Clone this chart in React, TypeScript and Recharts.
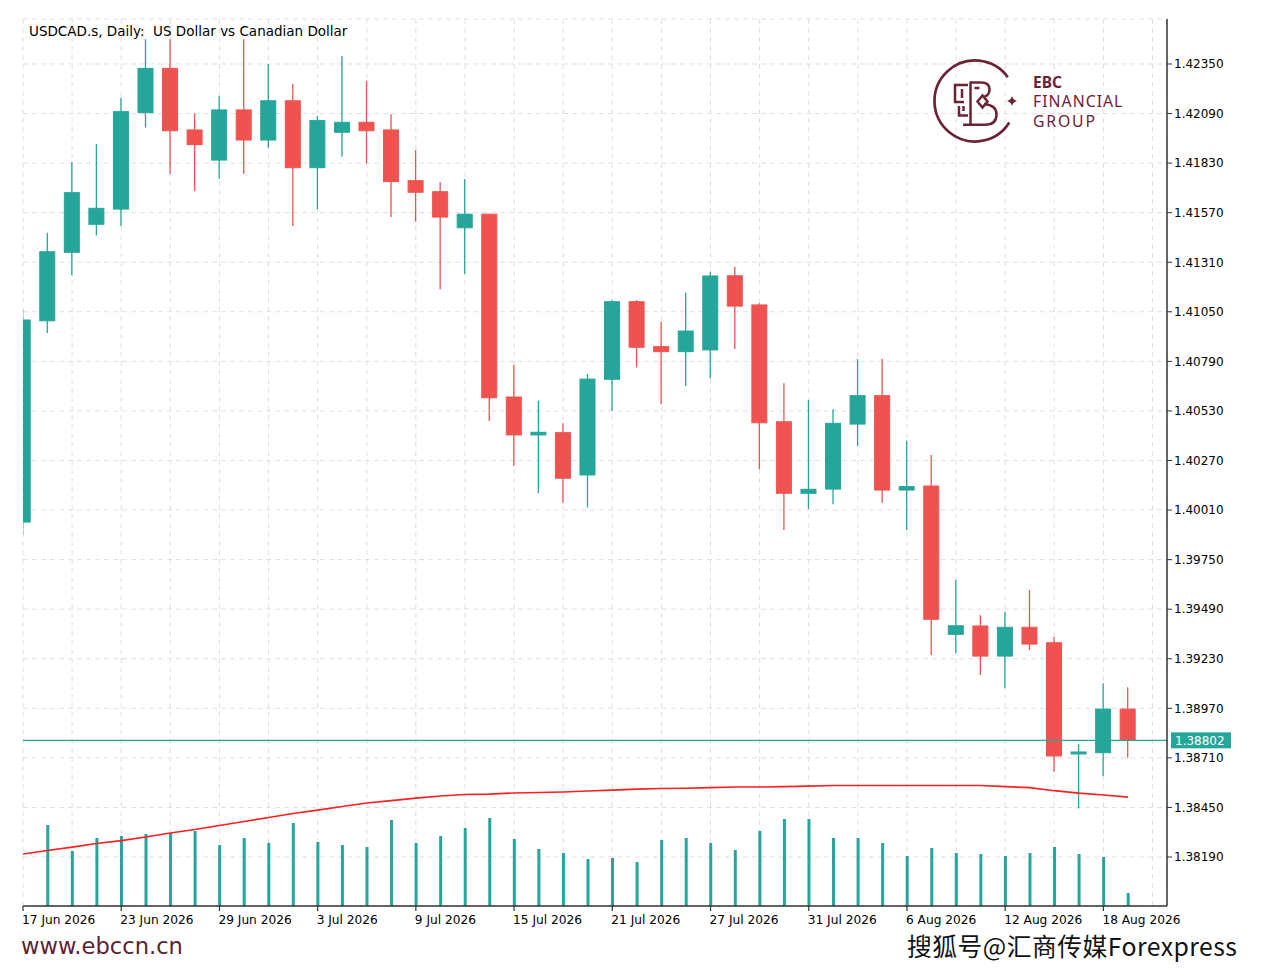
import React from 'react';
import {
  ComposedChart,
  Bar,
  Line,
  XAxis,
  YAxis,
  CartesianGrid,
  ReferenceLine,
} from 'recharts';

// ---------------- data ----------------
const DATES = [
  '17 Jun 2026', '18 Jun 2026', '19 Jun 2026', '22 Jun 2026', '23 Jun 2026', '24 Jun 2026',
  '25 Jun 2026', '26 Jun 2026', '29 Jun 2026', '30 Jun 2026', '1 Jul 2026', '2 Jul 2026',
  '3 Jul 2026', '6 Jul 2026', '7 Jul 2026', '8 Jul 2026', '9 Jul 2026', '10 Jul 2026',
  '13 Jul 2026', '14 Jul 2026', '15 Jul 2026', '16 Jul 2026', '17 Jul 2026', '20 Jul 2026',
  '21 Jul 2026', '22 Jul 2026', '23 Jul 2026', '24 Jul 2026', '27 Jul 2026', '28 Jul 2026',
  '29 Jul 2026', '30 Jul 2026', '31 Jul 2026', '3 Aug 2026', '4 Aug 2026', '5 Aug 2026',
  '6 Aug 2026', '7 Aug 2026', '10 Aug 2026', '11 Aug 2026', '12 Aug 2026', '13 Aug 2026',
  '14 Aug 2026', '17 Aug 2026', '18 Aug 2026', '19 Aug 2026',
];

const OPEN = [
  1.39947, 1.41003, 1.41362, 1.41509, 1.41589, 1.42095, 1.42327, 1.42004, 1.41846, 1.42109,
  1.41951, 1.42157, 1.41806, 1.41992, 1.42044, 1.42004, 1.41738, 1.41680, 1.41491, 1.41562,
  1.40603, 1.40404, 1.40416, 1.40194, 1.40696, 1.41103, 1.40867, 1.40841, 1.40850, 1.41239,
  1.41086, 1.40473, 1.40098, 1.40120, 1.40461, 1.40610, 1.40115, 1.40136, 1.39358, 1.39402,
  1.39244, 1.39395, 1.39314, 1.38737, 1.38737, 1.38966,
];
const HIGH = [
  1.41060, 1.41465, 1.41834, 1.41930, 1.42173, 1.42480, 1.42480, 1.42091, 1.42182, 1.42480,
  1.42350, 1.42245, 1.42077, 1.42392, 1.42262, 1.42086, 1.41899, 1.41729, 1.41747, 1.41565,
  1.40771, 1.40584, 1.40465, 1.40724, 1.41112, 1.41112, 1.40998, 1.41150, 1.41260, 1.41287,
  1.41095, 1.40675, 1.40587, 1.40539, 1.40802, 1.40802, 1.40374, 1.40299, 1.39643, 1.39459,
  1.39477, 1.39590, 1.39346, 1.38783, 1.39101, 1.39080,
];
const LOW = [
  1.39880, 1.40939, 1.41242, 1.41451, 1.41500, 1.42016, 1.41773, 1.41684, 1.41748, 1.41773,
  1.41911, 1.41500, 1.41588, 1.41864, 1.41829, 1.41547, 1.41523, 1.41168, 1.41248, 1.40477,
  1.40241, 1.40098, 1.40049, 1.40024, 1.40531, 1.40759, 1.40565, 1.40661, 1.40701, 1.40855,
  1.40225, 1.39905, 1.40016, 1.40040, 1.40346, 1.40049, 1.39905, 1.39250, 1.39259, 1.39145,
  1.39075, 1.39276, 1.38637, 1.38445, 1.38615, 1.38711,
];
const CLOSE = [
  1.41007, 1.41365, 1.41675, 1.41593, 1.42100, 1.42327, 1.42000, 1.41927, 1.42109, 1.41951,
  1.42157, 1.41806, 1.42053, 1.42044, 1.42000, 1.41733, 1.41677, 1.41547, 1.41562, 1.40599,
  1.40404, 1.40418, 1.40177, 1.40697, 1.41103, 1.40864, 1.40841, 1.40949, 1.41238, 1.41080,
  1.40468, 1.40098, 1.40119, 1.40465, 1.40610, 1.40115, 1.40133, 1.39437, 1.39403, 1.39244,
  1.39395, 1.39307, 1.38720, 1.38741, 1.38966, 1.38802,
];
// tick volume (relative units)
const VOLUME: (number | null)[] = [
  null, 81, 55, 68, 70, 72, 73, 75, 61, 68,
  63, 83, 64, 61, 59, 86, 63, 70, 78, 88,
  67, 57, 53, 47, 48, 44, 66, 68, 63, 56,
  75, 87, 87, 68, 68, 63, 50, 58, 53, 52,
  50, 53, 59, 52, 49, 13,
];
// moving average (red line)
const MA = [
  1.38206, 1.38224, 1.38242, 1.38261, 1.38276, 1.38295, 1.38316, 1.38334, 1.38355, 1.38376,
  1.38397, 1.38418, 1.38436, 1.38455, 1.38473, 1.38486, 1.38499, 1.38510, 1.38518, 1.38520,
  1.38526, 1.38528, 1.38531, 1.38536, 1.38541, 1.38546, 1.38549, 1.38551, 1.38554, 1.38557,
  1.38557, 1.38559, 1.38562, 1.38565, 1.38565, 1.38565, 1.38565, 1.38565, 1.38565, 1.38565,
  1.38559, 1.38554, 1.38538, 1.38525, 1.38515, 1.38504,
];
const PRICE_TICKS = [
  1.3819, 1.3845, 1.3871, 1.3897, 1.3923, 1.3949, 1.3975, 1.4001, 1.4027,
  1.4053, 1.4079, 1.4105, 1.4131, 1.4157, 1.4183, 1.4209, 1.4235,
];
const X_TICKS = [0, 2, 4, 6, 8, 10, 12, 14, 16, 18, 20, 22, 24, 26, 28, 30, 32, 34, 36, 38, 40, 42, 44, 46];
const LAST_PRICE = 1.38802;
const TITLE = 'USDCAD.s, Daily:  US Dollar vs Canadian Dollar';

const X_DOMAIN: [number, number] = [0, 46.59];
const PRICE_DOMAIN: [number, number] = [1.37933, 1.42586];
const VOL_DOMAIN: [number, number] = [0, 887];

const UP = '#26a69a';
const DOWN = '#ef5350';
const FRAME = '#333333';
const LOGO = '#6a2434';
const FONT = 'DejaVu Sans';

const rows = DATES.map((d, i) => ({
  i,
  date: d,
  open: OPEN[i],
  high: HIGH[i],
  low: LOW[i],
  close: CLOSE[i],
  range: [LOW[i], HIGH[i]],
  vol: VOLUME[i],
  ma: MA[i],
}));

// ---------------- shapes ----------------
const CandleShape = (props: any) => {
  const { x, y, width, height, payload } = props;
  if (!payload || x == null || y == null) return <g />;
  const { open, high, low, close } = payload;
  const top = Math.min(y, y + height);
  const h = Math.abs(height);
  const span = high - low;
  const ppu = span > 0 ? h / span : 0;
  const yOf = (v: number) => top + (high - v) * ppu;
  const up = close >= open;
  const color = up ? UP : DOWN;
  const cx = x + width / 2;
  const bTop = yOf(Math.max(open, close));
  const bBot = yOf(Math.min(open, close));
  const bh = Math.max(bBot - bTop, 2);
  return (
    <g>
      <line x1={cx} x2={cx} y1={top} y2={top + h} stroke={color} strokeWidth={1.3} />
      <rect x={x + 0.5} y={bTop} width={width - 1} height={bh} fill={color} stroke={color} strokeWidth={1} />
    </g>
  );
};

const DateTick = (props: any) => {
  const { x, y, payload } = props;
  const i = payload ? payload.value : -1;
  if (i % 4 !== 0 || !DATES[i]) return <g />;
  return (
    <g>
      <line x1={x} x2={x} y1={y - 8} y2={y - 3} stroke={FRAME} strokeWidth={1.2} />
      <text x={x - 1} y={y + 10} textAnchor="start" fontSize={12.2} fontFamily={FONT} fill="#000">
        {DATES[i]}
      </text>
    </g>
  );
};

const PriceTag = (props: any) => {
  const vb = props.viewBox || {};
  const x = (vb.x ?? 0) + (vb.width ?? 0);
  const y = vb.y ?? 0;
  return (
    <g>
      <rect x={x + 4} y={y - 8} width={60} height={16} fill={UP} />
      <text x={x + 8} y={y + 4.5} fontSize={12} fontFamily={FONT} fill="#ffffff">
        {LAST_PRICE.toFixed(5)}
      </text>
    </g>
  );
};

const Overlay = () => (
  <svg
    width={1267}
    height={970}
    style={{ position: 'absolute', left: 0, top: 0, pointerEvents: 'none' }}
  >
    <text x={29} y={36} fontSize={13.5} fontFamily={FONT} fill="#000" style={{ whiteSpace: 'pre' }}>
      {TITLE}
    </text>
    {/* logo */}
    <g fill="none" stroke={LOGO} strokeWidth={2.5} strokeLinecap="butt" strokeLinejoin="miter">
      <path d="M 1007.8 77.2 A 40.5 40.5 0 1 0 1009.3 122.5" strokeWidth={2.7} />
      <path d="M 968 85 H 955 V 102 H 964" />
      <path d="M 962 89 V 98" />
      <path d="M 959 106 V 115.5 H 968" />
      <path d="M 963.5 106 V 111" />
      <path d="M 970.5 81.5 V 125" />
      <path d="M 970.5 82.5 H 981 Q 989.5 82.5 989.5 89.5 Q 989.5 95 984 97" />
      <path d="M 984 104 Q 996.5 105 996.5 114.5 Q 996.5 124.8 985 124.8 H 963" />
      <path d="M 982.5 95.5 L 977.5 101.5 L 982.5 107.5 L 987.5 101.5 Z" />
      <path d="M 974.5 88 H 979.5" />
    </g>
    <path
      d="M 1012 96 Q 1013 100 1017 101 Q 1013 102 1012 106 Q 1011 102 1007 101 Q 1011 100 1012 96 Z"
      fill={LOGO}
    />
    <text x={1033} y={87.5} fontSize={15.5} fontWeight={700} fontFamily="Noto Sans" fill={LOGO}>
      EBC
    </text>
    <text x={1033} y={107} fontSize={15.8} letterSpacing={1} fontFamily="Noto Sans" fill={LOGO}>
      FINANCIAL
    </text>
    <text x={1033} y={126.5} fontSize={15.8} letterSpacing={1.8} fontFamily="Noto Sans" fill={LOGO}>
      GROUP
    </text>
    {/* footer */}
    <text x={21} y={954} fontSize={22.6} fontFamily={FONT} fill="#5b2333">
      www.ebccn.cn
    </text>
    <text
      x={907}
      y={955.7}
      fontSize={24.8}
      letterSpacing={0.45}
      fontFamily="Noto Sans CJK SC"
      fill="#111"
      stroke="#ffffff"
      strokeWidth={0.6}
      paintOrder="stroke"
    >
      搜狐号@汇商传媒Forexpress
    </text>
  </svg>
);

export default function App() {
  return (
    <div
      style={{
        position: 'absolute',
        left: 0,
        top: 0,
        width: 1267,
        height: 970,
        background: '#ffffff',
        overflow: 'hidden',
      }}
    >
      <ComposedChart
        width={1267}
        height={970}
        data={rows}
        margin={{ top: 19, right: 5, bottom: 34, left: 23 }}
        style={{ fontFamily: FONT }}
      >
        <CartesianGrid
          xAxisId="main"
          yAxisId="price"
          stroke="#e4dce4"
          strokeDasharray="5 4"
        />
        <XAxis
          xAxisId="main"
          dataKey="i"
          type="number"
          domain={X_DOMAIN}
          allowDataOverflow
          ticks={X_TICKS}
          interval={0}
          height={30}
          tickSize={6}
          tickMargin={2}
          tickLine={{ stroke: 'transparent' }}
          axisLine={{ stroke: FRAME, strokeWidth: 1.5 }}
          tick={<DateTick />}
        />
        <XAxis
          xAxisId="top"
          dataKey="i"
          type="number"
          orientation="top"
          domain={X_DOMAIN}
          allowDataOverflow
          height={0}
          tick={false}
          tickLine={false}
          axisLine={{ stroke: FRAME, strokeWidth: 1.5 }}
        />
        <YAxis
          yAxisId="price"
          orientation="right"
          type="number"
          domain={PRICE_DOMAIN}
          allowDataOverflow
          ticks={PRICE_TICKS}
          interval={0}
          width={95}
          tickSize={5}
          tickMargin={2}
          tickFormatter={(v: number) => v.toFixed(5)}
          tick={{ fontSize: 12, fill: '#000', fontFamily: FONT }}
          tickLine={{ stroke: FRAME }}
          axisLine={{ stroke: FRAME, strokeWidth: 1.5 }}
        />
        <YAxis
          yAxisId="vol"
          orientation="left"
          type="number"
          domain={VOL_DOMAIN}
          allowDataOverflow
          width={0}
          tick={false}
          tickLine={false}
          axisLine={{ stroke: FRAME, strokeWidth: 1.5 }}
        />
        <ReferenceLine
          xAxisId="main"
          yAxisId="price"
          y={LAST_PRICE}
          stroke={UP}
          strokeWidth={1.2}
          label={<PriceTag />}
        />
        <Bar
          xAxisId="top"
          yAxisId="vol"
          dataKey="vol"
          barSize={3}
          fill={UP}
          isAnimationActive={false}
        />
        <Line
          xAxisId="main"
          yAxisId="price"
          dataKey="ma"
          type="linear"
          stroke="#ff1f1f"
          strokeWidth={1.6}
          dot={false}
          activeDot={false}
          isAnimationActive={false}
        />
        <Bar
          xAxisId="main"
          yAxisId="price"
          dataKey="range"
          barSize={16}
          shape={<CandleShape />}
          isAnimationActive={false}
        />
      </ComposedChart>
      <Overlay />
    </div>
  );
}
